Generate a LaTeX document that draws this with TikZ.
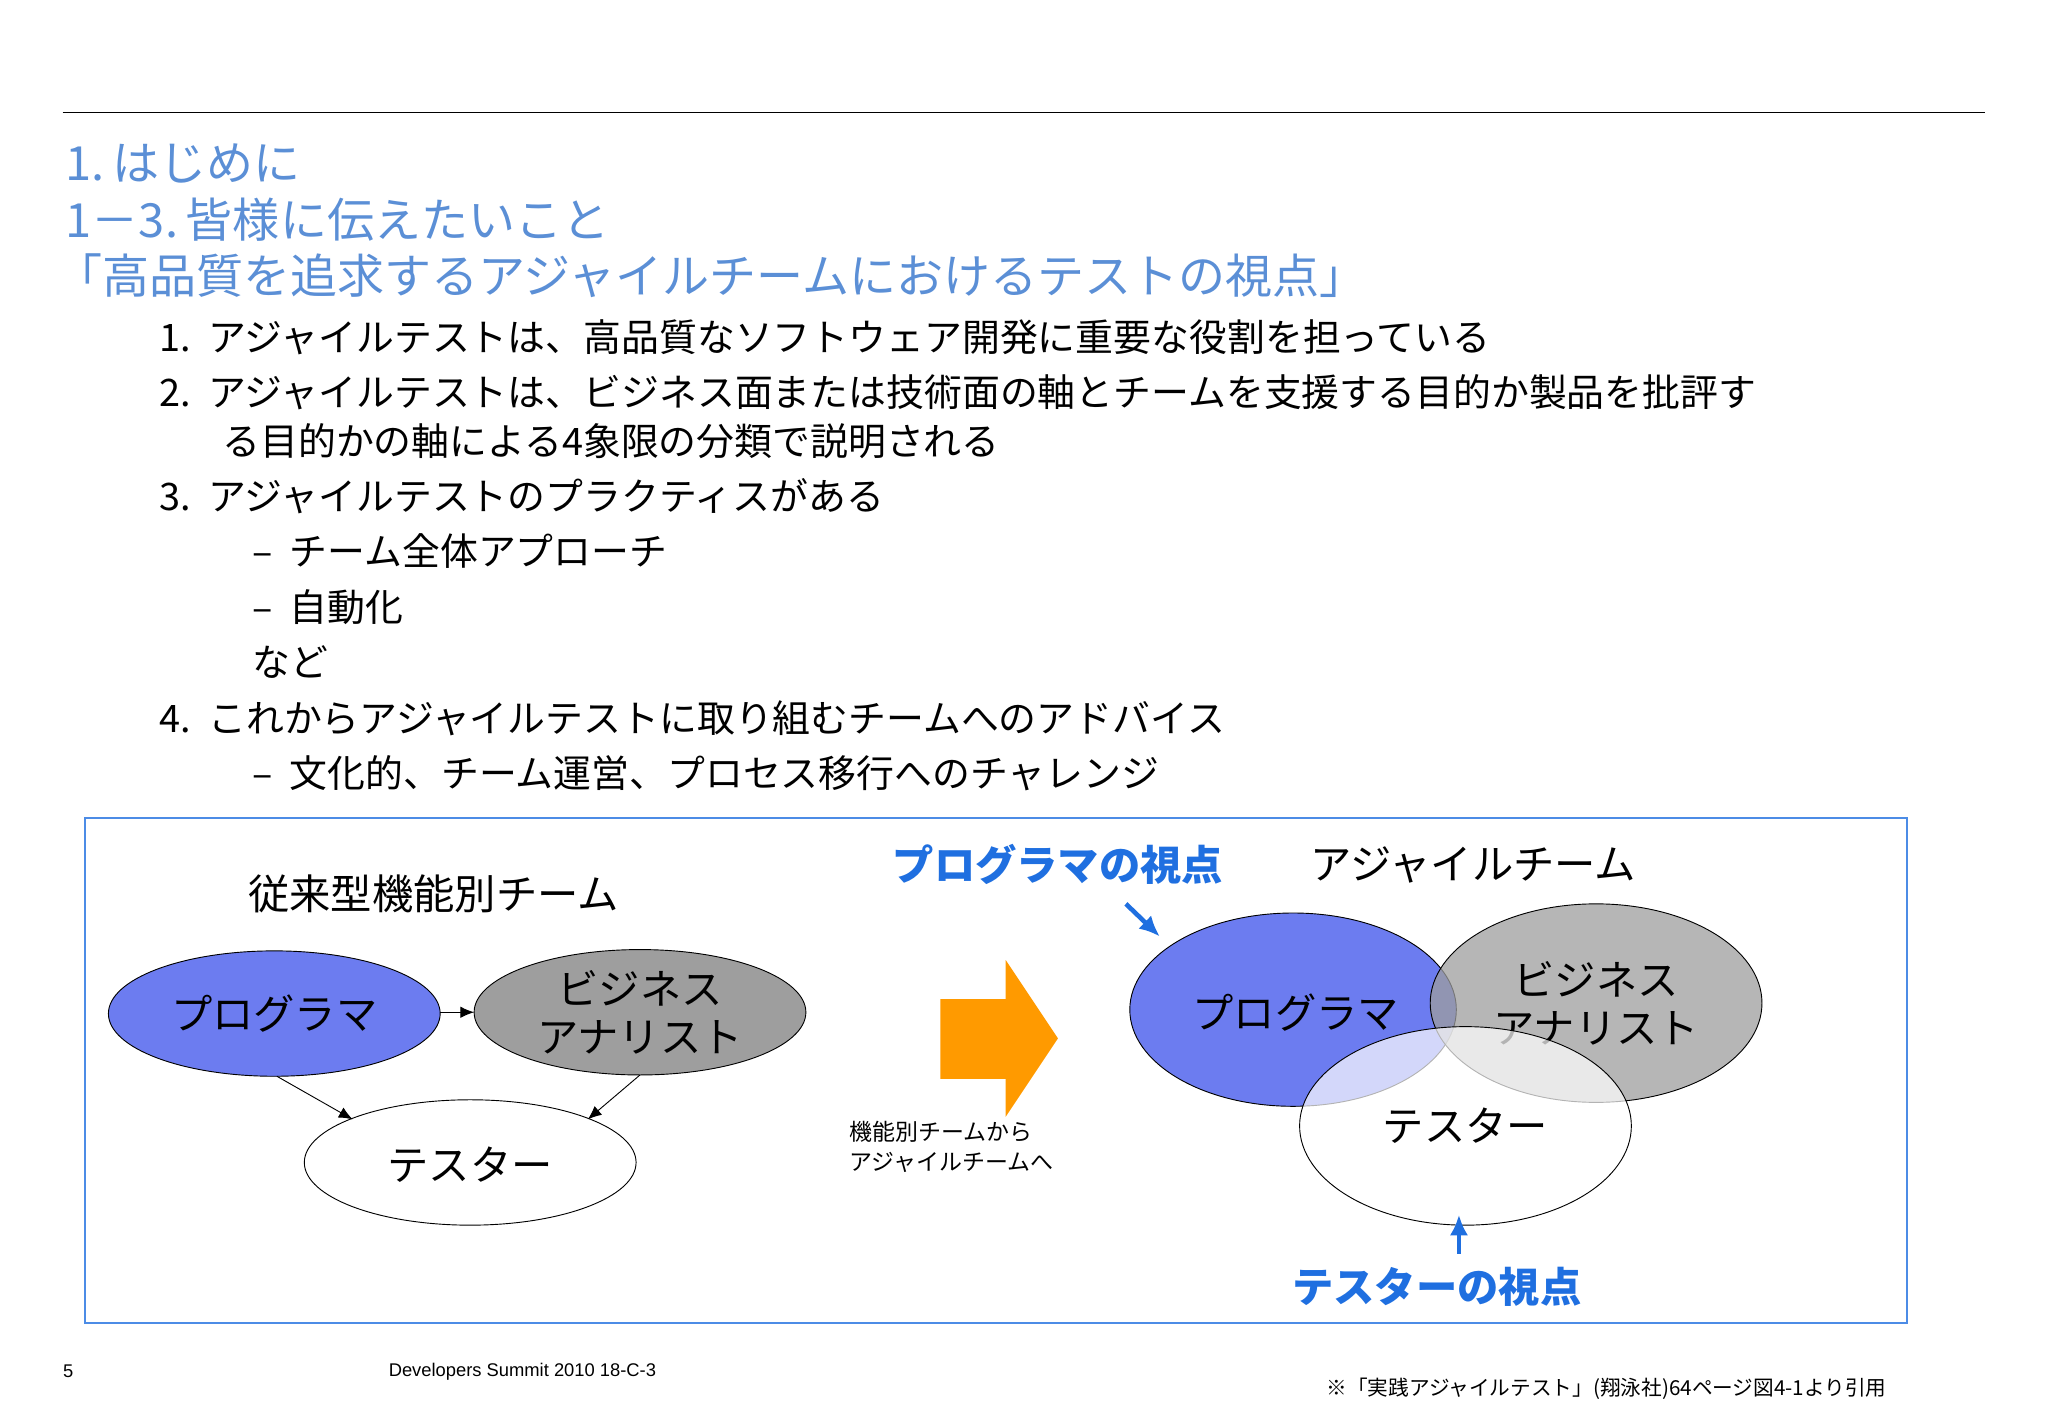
\documentclass[tikz,border=0pt]{standalone}
\usepackage{fontspec}
\setmainfont{Noto Sans CJK JP}
\newfontfamily\lsans{Liberation Sans}
\usetikzlibrary{arrows.meta}
\definecolor{ttl}{HTML}{5B8FD6}
\definecolor{vio}{HTML}{6C7CF0}
\definecolor{gr}{HTML}{9E9E9E}
\definecolor{bl}{HTML}{1F6FE0}
\definecolor{org}{HTML}{FF9A00}
\tikzset{
 title/.style={anchor=west,text=ttl,font=\fontsize{20.5}{22}\selectfont,inner sep=0},
 item/.style={anchor=west,font=\fontsize{16.5}{19}\selectfont,inner sep=0},
 lab/.style={font=\fontsize{18}{21}\selectfont,inner sep=0},
 view/.style={font=\fontsize{18}{21}\selectfont\bfseries,text=bl,inner sep=0},
 ar/.style={-{Latex[length=6pt,width=5pt]},thin},
}
\begin{document}
\begin{tikzpicture}[x=0.02cm,y=-0.02cm]
\useasboundingbox (0,0) rectangle (1568,1083);
\draw[thin] (48,86) -- (1520,86);
\node[title] (t1) at (50,125) {1.\,はじめに};
\node[title] (t2) at (50,168) {1－3.\,皆様に伝えたいこと};
\node[title] (t3) at (42,211) {「高品質を追求するアジャイルチームにおけるテストの視点」};
\node[item] (i1) at (122,258) {1.\ \ アジャイルテストは、高品質なソフトウェア開発に重要な役割を担っている};
\node[item] (i2) at (122,300) {2.\ \ アジャイルテストは、ビジネス面または技術面の軸とチームを支援する目的か製品を批評す};
\node[item] (i2b) at (170,338) {る目的かの軸による4象限の分類で説明される};
\node[item] (i3) at (122,380) {3.\ \ アジャイルテストのプラクティスがある};
\node[item] (i3a) at (193,422) {–\ \ チーム全体アプローチ};
\node[item] (i3b) at (193,465) {–\ \ 自動化};
\node[item] (i3c) at (193,507) {など};
\node[item] (i4) at (122,550) {4.\ \ これからアジャイルテストに取り組むチームへのアドバイス};
\node[item] (i4a) at (193,592) {–\ \ 文化的、チーム運営、プロセス移行へのチャレンジ};
\draw[bl!80,thick] (65,626) rectangle (1460,1013);
% left
\node[lab] (lt) at (332,684) {従来型機能別チーム};
\fill[vio] (210,776) ellipse [x radius=127,y radius=48];
\draw (210,776) ellipse [x radius=127,y radius=48];
\node[lab] (p1) at (210,776) {プログラマ};
\fill[gr] (490,775) ellipse [x radius=127,y radius=48];
\draw (490,775) ellipse [x radius=127,y radius=48];
\node[lab,align=center] (b1) at (490,775) {ビジネス\\アナリスト};
\draw (360,890) ellipse [x radius=127,y radius=48];
\node[lab] (ts1) at (360,892) {テスター};
\coordinate (pa) at (337,775); \coordinate (pb) at (363,775);
\coordinate (pc) at (212,824); \coordinate (pd) at (270,857);
\coordinate (pe) at (490,823); \coordinate (pf) at (450,857);
\draw[ar] (pa) -- (pb);
\draw[ar] (pc) -- (pd);
\draw[ar] (pe) -- (pf);
% arrow
\fill[org] (720,765) -- (770,765) -- (770,735) -- (810,795) -- (770,855) -- (770,826) -- (720,826) -- cycle;
\node[anchor=north west,align=left,font=\fontsize{10}{13}\selectfont,inner sep=0] (tx) at (650,858) {機能別チームから\\アジャイルチームへ};
% right
\node[view] (vp) at (810,662) {プログラマの視点};
\node[lab] (at) at (1128,662) {アジャイルチーム};
\fill[vio] (990,773) ellipse [x radius=125,y radius=74];
\draw (990,773) ellipse [x radius=125,y radius=74];
\fill[gr,opacity=0.75] (1222,768) ellipse [x radius=127,y radius=76];
\draw (1222,768) ellipse [x radius=127,y radius=76];
\node[lab] (p2) at (992,775) {プログラマ};
\node[lab,align=center] (b2) at (1222,768) {ビジネス\\アナリスト};
\fill[white,opacity=0.7] (1122,862) ellipse [x radius=127,y radius=76];
\draw (1122,862) ellipse [x radius=127,y radius=76];
\node[lab] (ts2) at (1122,862) {テスター};
\coordinate (va) at (862,692); \coordinate (vb) at (888,717);
\draw[bl,line width=2pt,-{Latex[length=9pt,width=8pt]}] (va) -- (vb);
\coordinate (vc) at (1117,960); \coordinate (vd) at (1117,930);
\draw[bl,line width=2pt,-{Latex[length=9pt,width=8pt]}] (vc) -- (vd);
\node[view] (vt) at (1100,985) {テスターの視点};
% footer
\node[font=\lsans\fontsize{8}{10}\selectfont,anchor=west,inner sep=0] (pg) at (48,1050) {5};
\node[font=\lsans\fontsize{8}{10}\selectfont,inner sep=0] (ds) at (400,1050) {Developers Summit 2010 18-C-3};
\node[font=\fontsize{9}{11}\selectfont,inner sep=0] (ct) at (1230,1063) {※「実践アジャイルテスト」(翔泳社)64ページ図4-1より引用};
\end{tikzpicture}
\end{document}
